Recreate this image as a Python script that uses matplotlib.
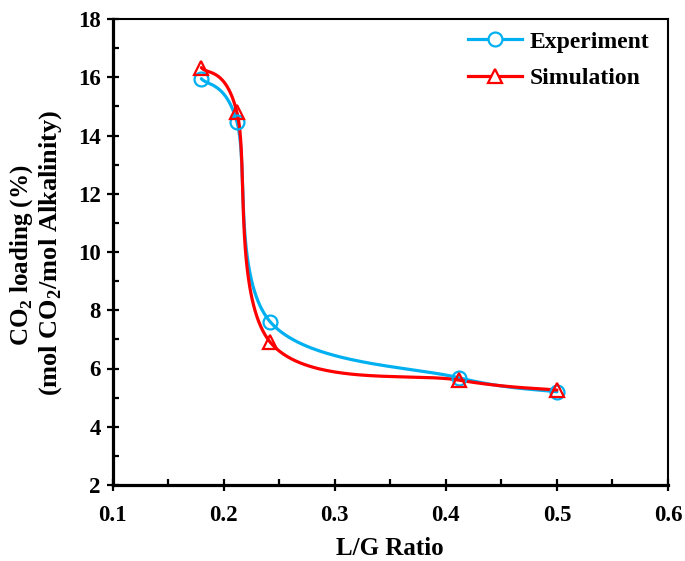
import numpy as np
import matplotlib
matplotlib.use("Agg")
import matplotlib.pyplot as plt
from matplotlib.ticker import MultipleLocator, FormatStrFormatter

# CO2 loading versus liquid-to-gas ratio
lg_ratio = [0.180, 0.212, 0.242, 0.412, 0.500]
experiment = [15.95, 14.47, 7.60, 5.68, 5.20]
simulation = [16.33, 14.80, 6.90, 5.60, 5.26]

BLUE = "#00B0F0"
RED = "#FF0000"

plt.rcParams["font.family"] = ["Liberation Serif", "DejaVu Serif"]
plt.rcParams["font.weight"] = "bold"

W, H = 685, 561
fig = plt.figure(figsize=(W / 100, H / 100), dpi=100)
ax = fig.add_axes([112.5 / W, 1 - 485 / H, (668 - 112.5) / W, (485 - 19) / H])
ax.set_xlim(0.1, 0.6)
ax.set_ylim(2, 18)


def smooth_curve(xs, ys, steps=80):
    """Bezier smoothing (Catmull-Rom style) computed in display space."""
    pts = ax.transData.transform(np.column_stack([xs, ys]))
    n = len(pts)
    t = np.linspace(0, 1, steps)[:, None]
    segs = []
    for i in range(n - 1):
        p0 = pts[max(i - 1, 0)]
        p1 = pts[i]
        p2 = pts[i + 1]
        p3 = pts[min(i + 2, n - 1)]
        c1 = p1 + (p2 - p0) / 6.0
        c2 = p2 - (p3 - p1) / 6.0
        seg = ((1 - t) ** 3) * p1 + 3 * ((1 - t) ** 2) * t * c1 \
            + 3 * (1 - t) * t ** 2 * c2 + t ** 3 * p2
        segs.append(seg if i == 0 else seg[1:])
    curve = np.vstack(segs)
    data = ax.transData.inverted().transform(curve)
    return data[:, 0], data[:, 1]


for ys, color, marker, ms, label in [
    (experiment, BLUE, "o", 10, "Experiment"),
    (simulation, RED, "^", 9.5, "Simulation"),
]:
    cx, cy = smooth_curve(lg_ratio, ys)
    ax.plot(cx, cy, color=color, lw=2.3, solid_capstyle="round", zorder=3)
    ax.plot(lg_ratio, ys, linestyle="none", marker=marker, ms=ms,
            mfc="none", mec=color, mew=1.6, zorder=4)
    ax.plot([], [], color=color, lw=2.3, marker=marker, ms=ms,
            mfc="white", mec=color, mew=1.6, label=label)

ax.xaxis.set_major_locator(MultipleLocator(0.1))
ax.xaxis.set_minor_locator(MultipleLocator(0.05))
ax.yaxis.set_major_locator(MultipleLocator(2))
ax.yaxis.set_minor_locator(MultipleLocator(1))
ax.xaxis.set_major_formatter(FormatStrFormatter("%.1f"))
ax.yaxis.set_major_formatter(FormatStrFormatter("%d"))

ax.tick_params(axis="both", which="major", direction="inout", length=9,
               width=1.6, labelsize=16.5, color="black")
ax.tick_params(axis="x", which="major", pad=10)
ax.tick_params(axis="y", which="major", pad=4)
ax.tick_params(axis="both", which="minor", direction="in", length=4.5,
               width=1.6)
ax.tick_params(top=False, right=False, which="both")

for side in ["left", "bottom"]:
    ax.spines[side].set_linewidth(2.3)
for side in ["top", "right"]:
    ax.spines[side].set_linewidth(1.5)

ax.set_xlabel("L/G Ratio", fontsize=18, fontweight="bold", labelpad=8)

# two-line vertical axis title
fig.text(22 / W, 1 - 255 / H, "CO$_\\mathregular{2}$ loading (%)",
         rotation=90, ha="center", va="center", fontsize=18, fontweight="bold")
fig.text(51 / W, 1 - 253 / H, "(mol CO$_\\mathregular{2}$/mol Alkalinity)",
         rotation=90, ha="center", va="center", fontsize=19, fontweight="bold")

leg = ax.legend(loc="upper left", bbox_to_anchor=(468 / W, 1 - 31 / H),
                bbox_transform=fig.transFigure, frameon=False,
                prop={"size": 17, "weight": "bold"}, handlelength=2.3,
                handletextpad=0.3, labelspacing=0.65, borderpad=0,
                borderaxespad=0)

fig.savefig("out.png", dpi=100)
